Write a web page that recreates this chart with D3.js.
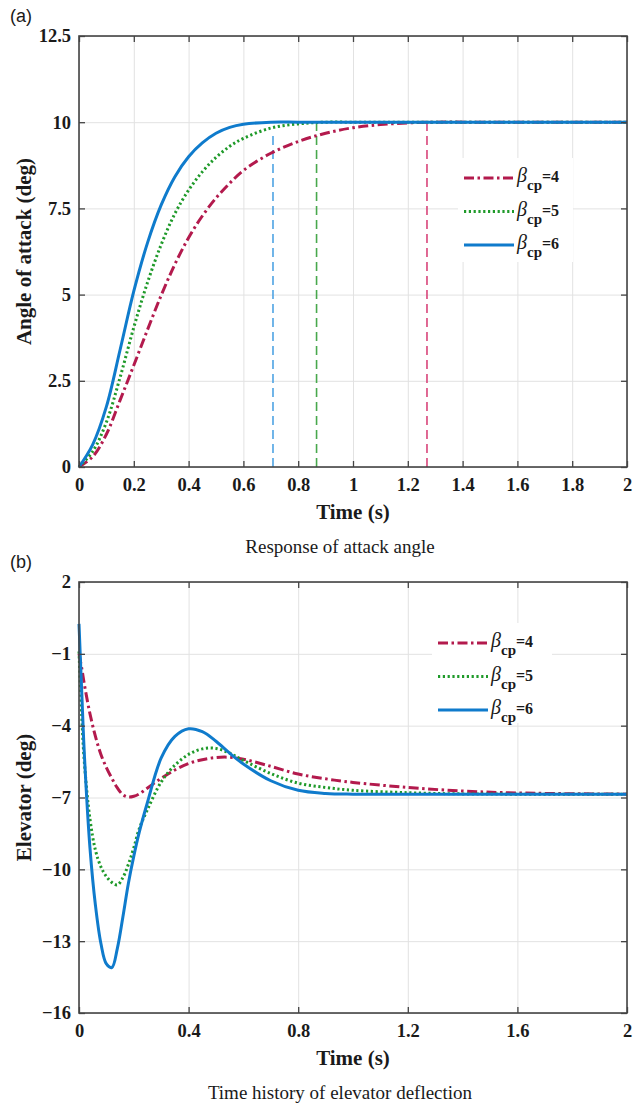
<!DOCTYPE html>
<html>
<head>
<meta charset="utf-8">
<script src="https://cdn.jsdelivr.net/npm/d3@7"></script>
<style>
  body { margin: 0; background: #fff; }
  svg { display: block; }
</style>
</head>
<body>
<svg id="fig" width="633" height="1106"></svg>
<script>
// panel (a): angle of attack
const timeA  = [0, 0.05, 0.1, 0.15, 0.2, 0.25, 0.3, 0.35, 0.4, 0.45, 0.5, 0.55, 0.6, 0.7, 0.8, 0.9, 1.0, 1.1, 1.2, 1.3, 1.5, 2.0];
const angle4 = [0, 0.3, 0.95, 1.94, 2.95, 3.98, 4.98, 5.88, 6.65, 7.28, 7.8, 8.23, 8.6, 9.1, 9.44, 9.68, 9.84, 9.93, 9.98, 10, 10, 10];
const angle5 = [0, 0.45, 1.3, 2.6, 4.05, 5.35, 6.45, 7.35, 8.03, 8.56, 8.98, 9.3, 9.53, 9.83, 9.95, 10, 10, 10, 10, 10, 10, 10];
const angle6 = [0, 0.65, 1.75, 3.4, 5.1, 6.5, 7.6, 8.42, 9.0, 9.4, 9.68, 9.85, 9.94, 10, 10, 10, 10, 10, 10, 10, 10, 10];

// settling markers (dashed verticals)
const settleTimes = [1.27, 0.867, 0.708];
const settleTops  = [10, 10, 9.7];

// panel (b): elevator deflection
const timeB = [0, 0.01, 0.02, 0.04, 0.06, 0.08, 0.1, 0.12, 0.14, 0.16, 0.18, 0.2, 0.22, 0.25, 0.3, 0.35, 0.4, 0.45, 0.5, 0.55, 0.6, 0.7, 0.8, 0.9, 1.0, 1.2, 1.4, 1.6, 2.0];
const elev4 = [-1.0, -1.6, -2.3, -3.5, -4.45, -5.2, -5.75, -6.2, -6.6, -6.88, -6.98, -6.95, -6.85, -6.6, -6.2, -5.85, -5.58, -5.42, -5.33, -5.32, -5.4, -5.7, -6.02, -6.22, -6.37, -6.58, -6.73, -6.81, -6.86];
const elev5 = [-0.9, -3.6, -5.6, -7.9, -9.2, -9.9, -10.3, -10.55, -10.65, -10.35, -9.8, -9.1, -8.3, -7.5, -6.35, -5.65, -5.2, -4.97, -4.95, -5.15, -5.45, -6.0, -6.4, -6.58, -6.7, -6.8, -6.85, -6.86, -6.86];
const elev6 = [0.25, -2.6, -5.3, -9.1, -11.5, -13.1, -13.95, -14.1, -13.3, -12.0, -10.6, -9.45, -8.45, -7.2, -5.35, -4.45, -4.13, -4.25, -4.65, -5.15, -5.6, -6.3, -6.7, -6.83, -6.86, -6.86, -6.86, -6.86, -6.86];

const betaValues = ["4", "5", "6"];

// ticks
const xTicksA = [0, 0.2, 0.4, 0.6, 0.8, 1, 1.2, 1.4, 1.6, 1.8, 2];
const yTicksA = [0, 2.5, 5, 7.5, 10, 12.5];
const xTicksB = [0, 0.4, 0.8, 1.2, 1.6, 2];
const yTicksB = [-16, -13, -10, -7, -4, -1, 2];

// styles for the three beta_cp cases
const lineColors   = ["#b31a4d", "#1f9a2a", "#0f7bcc"];
const settleColors = ["#d8457a", "#48a84c", "#4ea3e3"];
const dashes       = ["10,3.5,2.5,3.5", "2.2,2.6", null];

const svg = d3.select("#fig");
svg.append("rect").attr("width", 633).attr("height", 1106).attr("fill", "#fff");

const serif = "'Liberation Serif', 'Times New Roman', serif";
const fmt = d3.format("~g");

function drawPanel(cfg) {
    var g = svg.append("g");
    var x = d3.scaleLinear().domain([0, 2]).range([79, 627]);
    var y = d3.scaleLinear().domain(cfg.yDomain).range([cfg.bottom, cfg.top]);
    var h = cfg.bottom - cfg.top;
    var w = 627 - 79;

    // grid
    g.append("g")
        .attr("transform", `translate(0,${cfg.bottom})`)
        .call(d3.axisBottom(x).tickValues(cfg.xTicks).tickSize(-h).tickFormat(""))
        .call(a => a.select(".domain").remove())
        .selectAll("line").attr("stroke", "#e2e2e2").attr("stroke-width", 1);
    g.append("g")
        .attr("transform", "translate(79,0)")
        .call(d3.axisLeft(y).tickValues(cfg.yTicks).tickSize(-w).tickFormat(""))
        .call(a => a.select(".domain").remove())
        .selectAll("line").attr("stroke", "#e2e2e2").attr("stroke-width", 1);

    // dashed settle lines
    if (cfg.settle) {
        settleTimes.forEach((t, i) => {
            g.append("line")
                .attr("x1", x(t)).attr("x2", x(t))
                .attr("y1", y(0)).attr("y2", y(settleTops[i]))
                .attr("stroke", settleColors[i])
                .attr("stroke-width", 1.6)
                .attr("stroke-dasharray", "9,5");
        });
    }

    // curves
    var line = d3.line()
        .x(d => x(d[0]))
        .y(d => y(d[1]))
        .curve(d3.curveCatmullRom.alpha(0.5));
    cfg.series.forEach((s, i) => {
        g.append("path")
            .datum(cfg.time.map((t, k) => [t, s[k]]))
            .attr("d", line)
            .attr("fill", "none")
            .attr("stroke", lineColors[i])
            .attr("stroke-width", 3)
            .attr("stroke-linejoin", "round")
            .attr("stroke-dasharray", dashes[i]);
    });

    // box + inward ticks on all sides
    var axes = [
        [d3.axisBottom(x).tickValues(cfg.xTicks).tickSize(-6).tickPadding(11).tickFormat(fmt), `translate(0,${cfg.bottom})`],
        [d3.axisTop(x).tickValues(cfg.xTicks).tickSize(-6).tickFormat(""), `translate(0,${cfg.top})`],
        [d3.axisLeft(y).tickValues(cfg.yTicks).tickSize(-6).tickPadding(8).tickFormat(fmt), "translate(79,0)"],
        [d3.axisRight(y).tickValues(cfg.yTicks).tickSize(-6).tickFormat(""), "translate(627,0)"]
    ];
    axes.forEach(a => {
        var ax = g.append("g").attr("transform", a[1]).call(a[0])
            .attr("font-family", serif).attr("font-size", 18.5).attr("font-weight", "bold");
        ax.select(".domain").remove();
        ax.selectAll("line").attr("stroke", "#444").attr("stroke-width", 1.3);
        ax.selectAll("text").attr("fill", "#1a1a1a");
    });
    g.append("rect")
        .attr("x", 79).attr("y", cfg.top)
        .attr("width", w).attr("height", h)
        .attr("fill", "none")
        .attr("stroke", "#444")
        .attr("stroke-width", 1.6);

    // legend
    var lg = g.append("g");
    lg.append("rect")
        .attr("x", cfg.legend.x).attr("y", cfg.legend.y)
        .attr("width", cfg.legend.w).attr("height", cfg.legend.h)
        .attr("fill", "#fff");
    betaValues.forEach((b, i) => {
        var ly = cfg.legend.y + 20 + i * 33.5;
        var lx = cfg.legend.x + 6;
        lg.append("line")
            .attr("x1", lx).attr("x2", lx + 50)
            .attr("y1", ly).attr("y2", ly)
            .attr("stroke", lineColors[i])
            .attr("stroke-width", 3)
            .attr("stroke-dasharray", dashes[i]);
        var t = lg.append("text")
            .attr("x", lx + 53).attr("y", ly + 4)
            .style("font-family", serif)
            .attr("fill", "#1a1a1a");
        t.append("tspan").text("β")
            .style("font-style", "italic").style("font-size", "20px");
        t.append("tspan").text("cp").attr("dy", 8)
            .style("font-weight", "bold").style("font-size", "15px");
        t.append("tspan").text("=" + b).attr("dy", -8)
            .style("font-weight", "bold").style("font-size", "16px");
    });

    // titles
    g.append("text")
        .attr("x", 353).attr("y", cfg.bottom + 52)
        .attr("text-anchor", "middle")
        .style("font-family", serif).style("font-weight", "bold").style("font-size", "21px")
        .attr("fill", "#1a1a1a")
        .text("Time (s)");
    g.append("text")
        .attr("transform", `translate(31,${(cfg.top + cfg.bottom) / 2}) rotate(-90)`)
        .attr("text-anchor", "middle")
        .style("font-family", serif).style("font-weight", "bold").style("font-size", "21px")
        .attr("fill", "#1a1a1a")
        .text(cfg.yTitle);
    g.append("text")
        .attr("x", 340).attr("y", cfg.bottom + 86)
        .attr("text-anchor", "middle")
        .style("font-family", serif).style("font-size", "19px")
        .attr("fill", "#1a1a1a")
        .text(cfg.caption);
    g.append("text")
        .attr("x", 10).attr("y", cfg.top - 14)
        .style("font-family", "'Liberation Sans', Arial, sans-serif").style("font-size", "18px")
        .attr("fill", "#1a1a1a")
        .text(cfg.tag);
}

drawPanel({
    top: 36, bottom: 467,
    yDomain: [0, 12.5],
    xTicks: xTicksA, yTicks: yTicksA,
    time: timeA, series: [angle4, angle5, angle6],
    settle: true,
    legend: {x: 458, y: 158, w: 115, h: 104},
    yTitle: "Angle of attack (deg)",
    caption: "Response of attack angle",
    tag: "(a)"
});

drawPanel({
    top: 582, bottom: 1013,
    yDomain: [-16, 2],
    xTicks: xTicksB, yTicks: yTicksB,
    time: timeB, series: [elev4, elev5, elev6],
    settle: false,
    legend: {x: 432, y: 623, w: 120, h: 100},
    yTitle: "Elevator (deg)",
    caption: "Time history of elevator deflection",
    tag: "(b)"
});
</script>
</body>
</html>
